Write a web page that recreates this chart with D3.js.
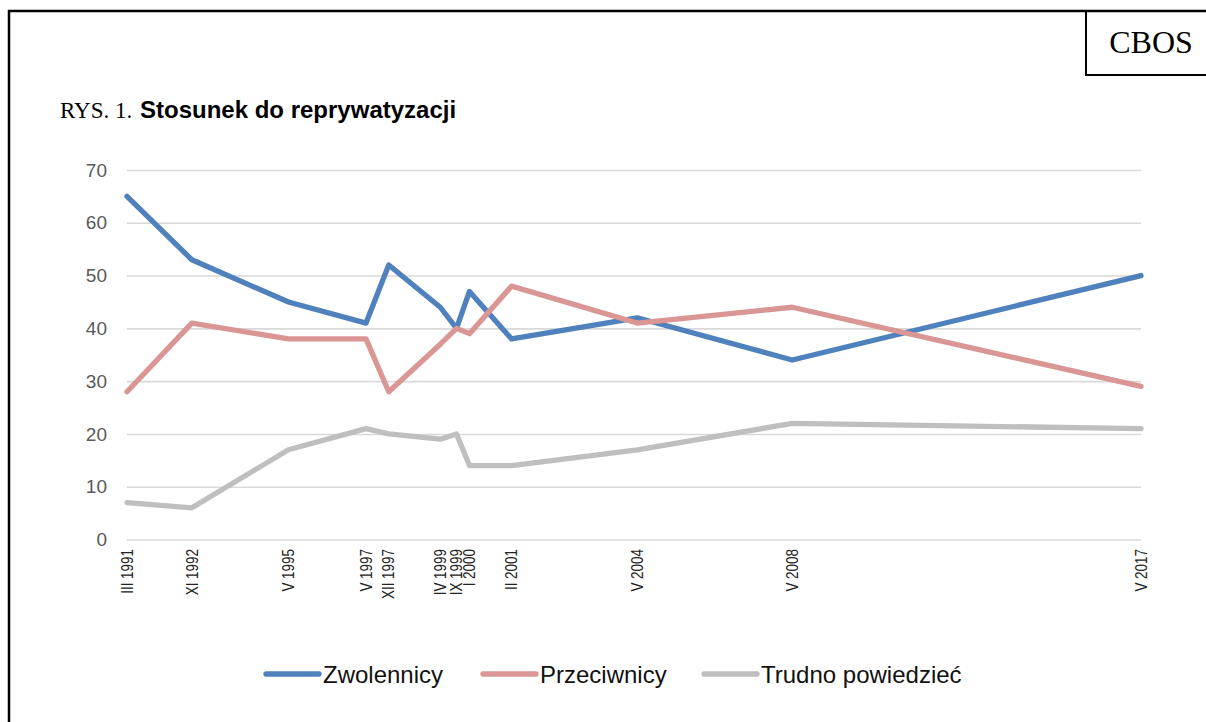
<!DOCTYPE html>
<html>
<head>
<meta charset="utf-8">
<script src="https://cdn.jsdelivr.net/npm/d3@7"></script>
<style>
  html, body { margin: 0; padding: 0; background: #fff; }
  svg { display: block; }
</style>
</head>
<body>
<svg id="chart" width="1206" height="722"></svg>
<script>
// ---- data ----
const tickLabels = ["III 1991","XI 1992","V 1995","V 1997","XII 1997","IV 1999","IX 1999","I 2000","II 2001","V 2004","V 2008","V 2017"];
const surveyYears  = [1991,1992,1995,1997,1997,1999,1999,2000,2001,2004,2008,2017];
const surveyMonths = [3,11,5,5,12,4,9,1,2,5,5,5];
const zwolennicy   = [65,53,45,41,52,44,40,47,38,42,34,50];
const przeciwnicy  = [28,41,38,38,28,37,40,39,48,41,44,29];
const trudno       = [7,6,17,21,20,19,20,14,14,17,22,21];
const seriesNames  = ["Zwolennicy","Przeciwnicy","Trudno powiedzieć"];
const seriesColors = ["#4f81bd","#d99694","#bfbfbf"];
const yTicks = [0,10,20,30,40,50,60,70];

const dates = surveyYears.map((y,i) => new Date(y, surveyMonths[i]-1, 1));
const seriesValues = [zwolennicy, przeciwnicy, trudno];

const svg = d3.select("#chart");

// frame
svg.append("line").attr("x1",9).attr("x2",9).attr("y1",10).attr("y2",722).attr("stroke","#000").attr("stroke-width",2.5);
svg.append("line").attr("x1",8).attr("x2",1206).attr("y1",11).attr("y2",11).attr("stroke","#000").attr("stroke-width",2.5);
svg.append("line").attr("x1",1086).attr("x2",1086).attr("y1",11).attr("y2",75).attr("stroke","#000").attr("stroke-width",2);
svg.append("line").attr("x1",1085).attr("x2",1206).attr("y1",75).attr("y2",75).attr("stroke","#000").attr("stroke-width",2);
svg.append("text").attr("x",1151).attr("y",53).attr("text-anchor","middle")
  .attr("font-family","'Liberation Serif','Times New Roman',serif").attr("font-size",32).text("CBOS");

// title
svg.append("text").attr("x",60).attr("y",118)
  .attr("font-family","'Liberation Serif','Times New Roman',serif").attr("font-size",23).text("RYS. 1.");
svg.append("text").attr("x",140).attr("y",118)
  .attr("font-family","'Liberation Sans',Arial,sans-serif").attr("font-weight","bold").attr("font-size",24)
  .text("Stosunek do reprywatyzacji");

// scales
const x = d3.scaleTime().domain([dates[0], dates[dates.length-1]]).range([127, 1141]);
const y = d3.scaleLinear().domain([0,70]).range([539.5,170]);

// grid + y labels
const yAxis = d3.axisLeft(y).tickValues(yTicks).tickSize(-(1141-127)).tickPadding(20);
const gy = svg.append("g").attr("transform","translate(127,0)").call(yAxis);
gy.select(".domain").remove();
gy.selectAll(".tick line").attr("stroke","#d9d9d9").attr("stroke-width",1.6);
gy.selectAll(".tick text").attr("fill","#595959").attr("font-size",19)
  .attr("font-family","'Liberation Sans',Arial,sans-serif");

// x labels (rotated)
const xg = svg.append("g");
xg.selectAll("text").data(tickLabels).join("text")
  .attr("transform",(d,i) => `translate(${x(dates[i])},549) rotate(-90) scale(0.84,1)`)
  .attr("dy","0.36em")
  .attr("text-anchor","end")
  .attr("font-family","'Liberation Sans',Arial,sans-serif")
  .attr("font-size",16)
  .attr("fill","#222")
  .text(d => d);

// lines
const line = d3.line().x((d,i) => x(dates[i])).y(d => y(d));
seriesValues.forEach((vals, k) => {
  svg.append("path").datum(vals).attr("d", line)
    .attr("fill","none").attr("stroke",seriesColors[k]).attr("stroke-width",5.3)
    .attr("stroke-linejoin","round").attr("stroke-linecap","round");
});

// legend
const legendX = [266, 483, 704];
const lg = svg.append("g");
seriesNames.forEach((name,k) => {
  lg.append("line").attr("x1",legendX[k]).attr("x2",legendX[k]+53).attr("y1",674).attr("y2",674)
    .attr("stroke",seriesColors[k]).attr("stroke-width",5.3).attr("stroke-linecap","round");
  lg.append("text").attr("x",legendX[k]+57).attr("y",683)
    .attr("font-family","'Liberation Sans',Arial,sans-serif").attr("font-size",24)
    .attr("fill","#111").text(name);
});
</script>
</body>
</html>
